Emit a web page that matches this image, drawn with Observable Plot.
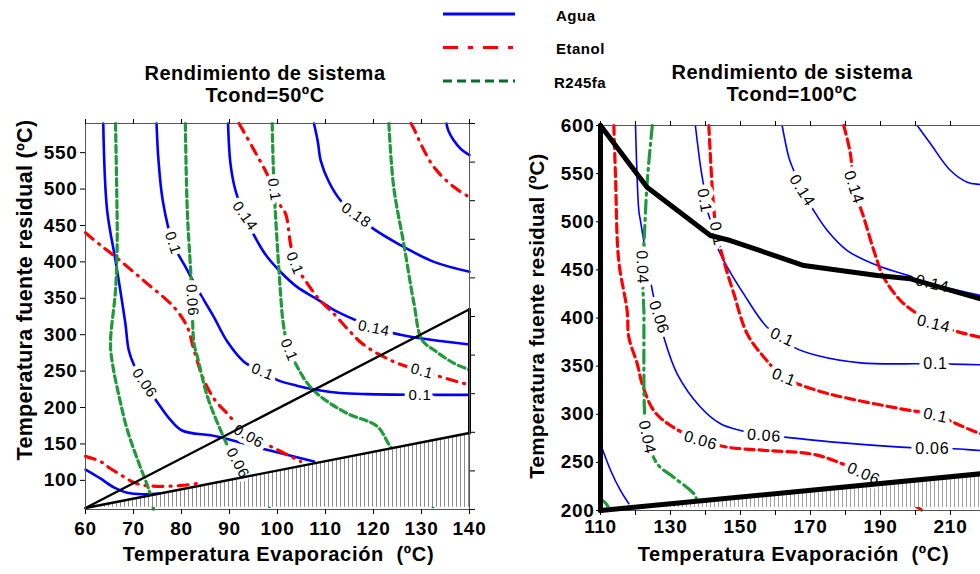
<!DOCTYPE html>
<html><head><meta charset="utf-8">
<script src="https://cdn.jsdelivr.net/npm/d3@7"></script>
<script src="https://cdn.jsdelivr.net/npm/@observablehq/plot@0.6"></script>
<style>
body{margin:0;background:#fff;}
#root{position:relative;width:980px;height:574px;overflow:hidden;background:#fff;font-family:"Liberation Sans",Arial,sans-serif;}
.panel{position:absolute;top:0;height:574px;}
.panel svg text{letter-spacing:0.7px;}
.ttl{position:absolute;width:340px;text-align:center;font-weight:bold;font-size:20px;line-height:22px;letter-spacing:0.5px;color:#000;}
.ytl{position:absolute;white-space:nowrap;font-weight:bold;color:#000;transform:translate(-50%,-50%) rotate(-90deg);letter-spacing:0.3px;}
#legend{position:absolute;left:0;top:0;}
</style></head><body>
<div id="root">
  <div id="left" class="panel" style="left:0;width:490px"></div>
  <div id="right" class="panel" style="left:490px;width:530px"></div>
  <div class="ttl" style="left:95px;top:62px">Rendimiento de sistema<br>Tcond=50ºC</div>
  <div class="ttl" style="left:622px;top:61px">Rendimiento de sistema<br>Tcond=100ºC</div>
  <div class="ytl" style="left:25px;top:290px;font-size:21.5px">Temperatura fuente residual (ºC)</div>
  <div class="ytl" style="left:537px;top:316px;font-size:20.5px">Temperatura fuente residual (ºC)</div>
  <svg id="legend" width="980" height="100"></svg>
</div>
<script>
// ---------- Legend ----------
const legendNames = ["Agua", "Etanol", "R245fa"];
const legendColors = ["#0000ff", "#ff0000", "#0b6b2f"];

// ---------- Panel Tcond = 50 ºC ----------
const xTicks50 = [60, 70, 80, 90, 100, 110, 120, 130, 140];
const yTicks50 = [100, 150, 200, 250, 300, 350, 400, 450, 500, 550];
const yTicksRight50 = [60, 113, 166, 219, 272, 325, 378, 431, 484, 537, 590];

const agua50_a = [[60,114.7],[63,103],[66,90],[68.7,83],[72,81],[75.6,82]];
const agua50_006 = [[63.7,590],[64.5,471],[66.25,402],[68.3,315.7],[69,279],[70.1,258.5],[72.3,233.5],[74.9,208],[77.7,183],[80.1,168.5],[87.4,160.3],[97.8,142],[107.6,126]];
const agua50_010 = [[74.8,590],[75.2,540],[76.1,484],[78.2,426],[81.2,388.7],[84,355],[86.7,324.7],[89.5,291],[93,263],[96.9,249],[99.9,238],[104,230],[108.3,224],[113,220],[118.7,218.4],[129.7,217.5],[140,217.4]];
const agua50_014 = [[89.7,590],[90.2,535],[91.25,498],[93.2,463],[95.1,436.7],[97.5,410],[100.6,386.4],[104,366],[108.3,348.5],[112,333],[115.9,321],[120.1,308.8],[125.6,300],[132,293],[140,286.6]];
const agua50_018 = [[107.6,590],[108.4,565],[109,539],[110.7,510],[113.1,484.6],[116.4,464],[119.4,448],[125.6,423],[132.6,400],[140,386.4]];
const agua50_022 = [[135.2,590],[135.6,580],[136.7,567],[138.2,555],[140,546.5]];

const etanol50_a = [[60,133],[63.1,126],[65,117],[67.3,107.8],[69.5,99],[71.5,94],[74.9,91.8],[80,93],[84,96.5]];
const etanol50_006 = [[60,440],[63.1,423],[66.25,407],[69.5,389],[72.8,370.5],[78.4,338],[81.2,310.7],[82.6,279],[84.6,238.5],[87,210],[89.5,192],[94,160.3],[97.8,149],[104.8,126]];
const etanol50_010 = [[92,590],[95.1,553.7],[97.8,521],[99.3,499],[100.8,475],[101.7,466],[102.7,425],[103.6,398],[106.2,370.5],[108.5,350],[111.7,329],[115,305],[118,286],[124.2,263],[130.1,250],[137.4,235.7],[140,231]];
const etanol50_014 = [[127.8,590],[128.4,583],[130,560],[132.6,530],[136.7,503],[140,489]];

const r245_50_a = [[66.25,590],[66.5,500],[66.6,425],[66.25,361],[65.2,288],[65.6,261],[67,215],[68.7,169.5],[71.1,123.8],[73.2,87],[74.2,60]];
const r245_50_b = [[80.8,590],[81.2,471],[81.9,388.7],[82.2,347.5],[82.6,288],[83.3,270],[85.4,215],[88.1,169.5],[89.8,145],[91.7,123.8],[94,100],[97.1,82.7],[98.5,60]];
const r245_50_c = [[98.9,590],[99.2,516.5],[100.3,388.7],[101.3,310.7],[102.4,279],[103.4,265],[106.2,233.5],[109,215],[114.5,192],[120.8,174],[123.5,146.6],[127,120],[131,85],[132.6,60]];
const r245_50_d = [[123.2,590],[124.2,503],[126.3,425],[128.4,344],[130.1,292.8],[132.6,279],[136.7,261],[140,251.7]];

const black50_diag = [[60,62],[140,335]];
const black50_low = [[60,62],[140,165]];
const black50_right = [[140,165],[140,335]];

const labels50 = [
  [78.2,426,"0.1",72],[93.2,463,"0.14",55],[116.4,464,"0.18",35],[99.3,499,"0.1",82],
  [103.6,398,"0.1",68],[82.2,347.5,"0.06",86],[120.1,308.8,"0.14",12],[72.3,233.5,"0.06",55],
  [96.9,249,"0.1",22],[102.4,279,"0.1",68],[130.1,250,"0.1",15],[129.7,217.5,"0.1",0],
  [94,160.3,"0.06",30],[91.7,123.8,"0.06",62]
];

// ---------- Panel Tcond = 100 ºC ----------
const xTicks100 = [110, 120, 130, 140, 150, 160, 170, 180, 190, 200, 210, 220, 230];
const xLabels100 = [110, 130, 150, 170, 190, 210];
const yTicks100 = [200, 250, 300, 350, 400, 450, 500, 550, 600];

const agua100_a = [[110,269.3],[112.9,241.6],[115.7,220.8],[118.1,207]];
const agua100_006 = [[120,600],[120.95,511.7],[121.4,501.3],[123.3,459.7],[125.2,421.6],[126.7,400.8],[128.1,380],[131.9,342],[138.6,307.3],[144.3,290.1],[150,283.1],[156.7,277.9],[162.4,276.2],[176.7,271],[195.7,265.8],[204.8,264.1],[210.9,264.1],[218.6,262.3],[230,261]];
const agua100_010 = [[137.1,600],[138.6,556.7],[139.5,535.9],[139.7,522],[141.5,500],[143,477.1],[145.2,459.7],[150.9,425.1],[157.6,390.4],[161.9,380],[165.2,369.7],[171.9,361],[184.3,353.4],[200.5,352.4],[205.7,352.4],[218.6,351.4],[230,351]];
const agua100_014 = [[161.9,600],[163.8,567.1],[165.2,553.2],[167.6,532.5],[170.9,511.7],[174.8,490.9],[180.5,470.1],[189.1,454.5],[199.5,442.4],[204.8,435.5],[218.6,423.4],[230,416]];
const agua100_018 = [[200.5,600],[204.3,581],[210,553.2],[214.8,541.1],[218.6,538.7],[230,536]];

const etanol100_006 = [[113.8,600],[114.3,546.3],[115.2,459.7],[117.6,407.8],[118.1,380],[120.5,352.4],[121.9,331.6],[125.2,303.9],[130,288.3],[138.6,272.7],[146.2,265.8],[157.6,262.3],[170,258.9],[176.7,252],[185.2,238.1],[190,229.4],[196,215],[201.9,200]];
const etanol100_010 = [[140.95,600],[142.4,511.7],[143.3,487.5],[145.2,459.7],[148.1,425.1],[151.9,383.6],[156.7,359.3],[162.4,338.5],[171.9,324.7],[181.4,316],[195.7,305.7],[205.7,298.7],[218.6,279.7],[230,268]];
const etanol100_014 = [[179.5,600],[181.4,570.6],[182.4,535.9],[185.2,504.7],[188.1,470.1],[190.9,442.4],[195.7,418.2],[200.5,404.4],[205.2,394],[218.6,380],[230,374]];

const r245_100_a = [[124.8,600],[123.3,539.4],[122.4,477.1],[121.9,452.8],[122.4,407.8],[122.4,387],[122.6,300.5],[123.3,276.2],[126.2,248.5],[130.9,234.6],[136.7,217.3],[137.6,210]];
const r245_100_b = [[110,212],[111.5,207.5],[112.4,202]];

const black100_top = [[110,600],[123.3,535.9],[141.4,485.7],[147.1,480.5],[168.1,454.5],[189.1,444.2],[198.6,440.7],[218.6,420],[230,409]];
const black100_left = [[110,200],[110,600]];
const black100_low = [[110,200],[230,242.1]];

const labels100 = [
  [121.9,452.8,"0.04",88],[126.7,400.8,"0.06",72],[139.7,522,"0.1",80],[143.3,487.5,"0.1",78],
  [167.6,532.5,"0.14",58],[182.4,535.9,"0.14",72],[204.8,435.5,"0.14",14],[205.2,394,"0.14",14],
  [161.9,380,"0.1",25],[162.4,338.5,"0.1",22],[205.7,298.7,"0.1",12],[205.7,352.4,"0.1",0],
  [156.7,277.9,"0.06",4],[138.6,272.7,"0.06",16],[204.8,264.1,"0.06",0],[185.2,238.1,"0.06",24],
  [123.3,276.2,"0.04",78]
];

// ---------- helpers ----------
const toRows = lines => lines.flatMap((pts, i) => pts.map(([x, y]) => ({x, y, id: i})));
const toPts = pts => pts.map(([x, y]) => ({x, y}));
const toLabels = arr => arr.map(([x, y, text, rot]) => ({x, y, text, rot}));
const FONT = "Liberation Sans, Arial, sans-serif";
const NS = "http://www.w3.org/2000/svg";

function addHatch(svg, id, spacing, color) {
  const defs = document.createElementNS(NS, "defs");
  const p = document.createElementNS(NS, "pattern");
  p.setAttribute("id", id);
  p.setAttribute("patternUnits", "userSpaceOnUse");
  p.setAttribute("width", spacing);
  p.setAttribute("height", 10);
  const r = document.createElementNS(NS, "rect");
  r.setAttribute("width", spacing); r.setAttribute("height", 10); r.setAttribute("fill", "#fff");
  const l = document.createElementNS(NS, "line");
  l.setAttribute("x1", 0.5); l.setAttribute("x2", 0.5); l.setAttribute("y1", 0); l.setAttribute("y2", 10);
  l.setAttribute("stroke", color); l.setAttribute("stroke-width", 1);
  p.appendChild(r); p.appendChild(l); defs.appendChild(p);
  svg.insertBefore(defs, svg.firstChild);
}

const boldTicks = {fontSize: 19, fontWeight: "bold"};

// ---------- Left plot ----------
const left = Plot.plot({
  width: 490, height: 574,
  marginLeft: 85, marginRight: 21, marginTop: 123, marginBottom: 65,
  x: {domain: [60, 140]},
  y: {domain: [60, 590]},
  style: {fontFamily: FONT, background: "transparent", maxWidth: "none", color: "black", overflow: "visible"},
  marks: [
    Plot.line(toRows([agua50_a, agua50_006, agua50_010, agua50_014, agua50_018, agua50_022]),
      {x: "x", y: "y", z: "id", stroke: "#0000ff", strokeWidth: 2.6, curve: "catmull-rom"}),
    Plot.line(toRows([etanol50_a, etanol50_006, etanol50_010, etanol50_014]),
      {x: "x", y: "y", z: "id", stroke: "#ff0000", strokeWidth: 3.2, strokeDasharray: "10,7,1,7", strokeLinecap: "round", curve: "catmull-rom"}),
    Plot.line(toRows([r245_50_a, r245_50_b, r245_50_c, r245_50_d]),
      {x: "x", y: "y", z: "id", stroke: "#1f9a3a", strokeWidth: 3.2, strokeDasharray: "7,4", curve: "catmull-rom"}),
    Plot.areaY(toPts(black50_low), {x: "x", y1: 63, y2: "y", fill: "url(#hatch50)"}),
    Plot.text(toLabels(labels50), {x: "x", y: "y", text: "text", rotate: "rot", fontSize: 15, fill: "black", stroke: "white", strokeWidth: 9, strokeLinejoin: "round"}),
    Plot.line(toRows([black50_diag, black50_low]), {x: "x", y: "y", z: "id", stroke: "black", strokeWidth: 2.4}),
    Plot.line(toPts(black50_right), {x: "x", y: "y", stroke: "black", strokeWidth: 3}),
    Plot.frame({stroke: "#555"}),
    Plot.axisX({anchor: "bottom", ticks: xTicks50, tickSize: 5, tickPadding: 7, label: null, ...boldTicks}),
    Plot.axisX({anchor: "top", ticks: xTicks50, tickSize: 5, tickFormat: () => "", label: null}),
    Plot.axisY({anchor: "left", ticks: yTicks50, tickSize: 5, tickPadding: 3, label: null, ...boldTicks}),
    Plot.axisY({anchor: "right", ticks: yTicksRight50, tickSize: 5, tickFormat: () => "", label: null}),
    Plot.text(["Temperatura Evaporación  (ºC)"], {text: d => d, frameAnchor: "bottom", dy: 51, dx: 1, fontSize: 20, fontWeight: "bold"})
  ]
});
addHatch(left, "hatch50", 4, "#8c8c8c");
document.getElementById("left").appendChild(left);

// ---------- Right plot ----------
const right = Plot.plot({
  width: 530, height: 574,
  marginLeft: 110, marginRight: 0, marginTop: 125, marginBottom: 64,
  x: {domain: [110, 230]},
  y: {domain: [200, 600]},
  style: {fontFamily: FONT, background: "transparent", maxWidth: "none", color: "black", overflow: "visible"},
  marks: [
    Plot.line(toRows([agua100_a, agua100_006, agua100_010, agua100_014, agua100_018]),
      {x: "x", y: "y", z: "id", stroke: "#0000ff", strokeWidth: 1.6, curve: "catmull-rom"}),
    Plot.line(toRows([etanol100_006, etanol100_010, etanol100_014]),
      {x: "x", y: "y", z: "id", stroke: "#ff0000", strokeWidth: 3.2, strokeDasharray: "9,5", curve: "catmull-rom"}),
    Plot.line(toRows([r245_100_a, r245_100_b]),
      {x: "x", y: "y", z: "id", stroke: "#1f9a3a", strokeWidth: 3.2, strokeDasharray: "13,5,2,5", curve: "catmull-rom"}),
    Plot.areaY(toPts(black100_low), {x: "x", y1: 203, y2: "y", fill: "url(#hatch100)"}),
    Plot.text(toLabels(labels100), {x: "x", y: "y", text: "text", rotate: "rot", fontSize: 16, fill: "black", stroke: "white", strokeWidth: 9, strokeLinejoin: "round"}),
    Plot.frame({stroke: "#555"}),
    Plot.line(toRows([black100_top, black100_left, black100_low]), {x: "x", y: "y", z: "id", stroke: "black", strokeWidth: 5, strokeLinejoin: "round"}),
    Plot.axisX({anchor: "bottom", ticks: xTicks100, tickSize: 5, tickFormat: () => "", label: null}),
    Plot.axisX({anchor: "bottom", ticks: xLabels100, tickSize: 5, tickPadding: 4, label: null, ...boldTicks}),
    Plot.axisX({anchor: "top", ticks: xTicks100, tickSize: 5, tickFormat: () => "", label: null}),
    Plot.axisY({anchor: "left", ticks: yTicks100, tickSize: 4, tickPadding: 2, label: null, ...boldTicks}),
    Plot.text(["Temperatura Evaporación  (ºC)"], {text: d => d, frameAnchor: "bottom", dy: 50, dx: -17, fontSize: 20, fontWeight: "bold"})
  ]
});
addHatch(right, "hatch100", 4, "#a0a0a0");
document.getElementById("right").appendChild(right);

// ---------- Legend (drawn with d3) ----------
const leg = d3.select("#legend");
const dashes = [null, "15,10,5,10", "9,5"];
legendNames.forEach((name, i) => {
  const y = 14 + i * 33.5;
  leg.append("line").attr("x1", 443).attr("x2", 515).attr("y1", y).attr("y2", y)
    .attr("stroke", legendColors[i]).attr("stroke-width", 3).attr("stroke-dasharray", dashes[i]);
  leg.append("text").attr("x", 556 - (i === 2 ? 2 : 0)).attr("y", y + 3).attr("dominant-baseline", "middle")
    .attr("font-family", FONT).attr("font-weight", "bold").attr("font-size", 15).attr("letter-spacing", 0.5).text(name);
});
</script>
</body></html>
